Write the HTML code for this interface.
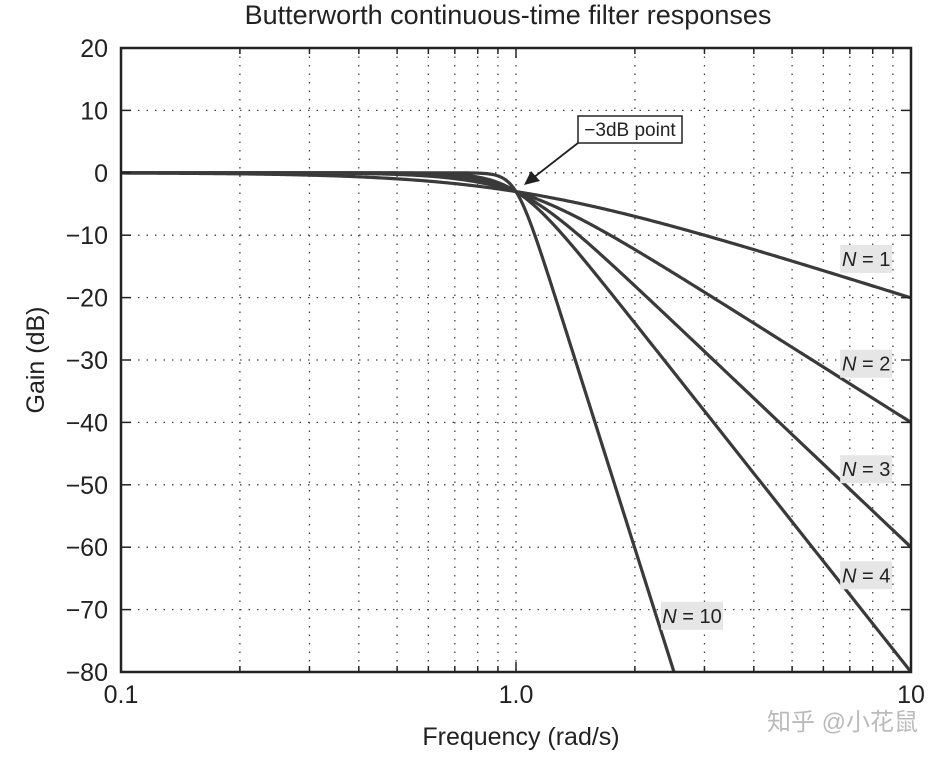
<!DOCTYPE html>
<html><head><meta charset="utf-8"><style>
body{margin:0;background:#fff;}
svg{display:block;font-family:"Liberation Sans","Noto Sans CJK SC",sans-serif;}
</style></head><body>
<svg id="chart" width="943" height="759">
<text x="508" y="24" font-size="27" text-anchor="middle" fill="#222">Butterworth continuous-time filter responses</text>
<g id="grid"></g>
<g id="curves"></g>
<rect x="121" y="48" width="790" height="624" fill="none" stroke="#222" stroke-width="2.5"/>
<g id="axes"></g>
<text x="521" y="745" font-size="25" text-anchor="middle" fill="#222">Frequency (rad/s)</text>
<text transform="translate(44,360) rotate(-90)" font-size="25" text-anchor="middle" fill="#222">Gain (dB)</text>
<g>
<rect x="578" y="116" width="104" height="27" fill="#fff" stroke="#222" stroke-width="1.5"/>
<text x="630" y="136" font-size="19" text-anchor="middle" fill="#222">−3dB point</text>
<line x1="578" y1="143" x2="533" y2="178" stroke="#222" stroke-width="1.8"/>
<polygon points="524,185 531,171 540,181" fill="#222"/>
</g>
<g id="labels"></g>
<text x="918" y="730" font-size="24" text-anchor="end" fill="#bbb">知乎 @小花鼠</text>
</svg>
<script>
const orders = [1, 2, 3, 4, 10];
const labelText = ["N = 1", "N = 2", "N = 3", "N = 4", "N = 10"];
const labelFreq = [7.7, 7.7, 7.7, 7.7, 2.79];
const labelGain = [-13.8, -30.6, -47.5, -64.5, -71.0];
const xTicks = [0.1, 1, 10];
const xTickLabels = ["0.1", "1.0", "10"];
const yTicks = [20, 10, 0, -10, -20, -30, -40, -50, -60, -70, -80];

const X0 = 121, X1 = 911, Y0 = 48, Y1 = 672;
const xs = f => X0 + (Math.log10(f) + 1) / 2 * (X1 - X0);
const ys = g => Y0 + (20 - g) / 100 * (Y1 - Y0);
const NS = "http://www.w3.org/2000/svg";
function mk(tag, attrs, parent) { const e = document.createElementNS(NS, tag); for (const k in attrs) e.setAttribute(k, attrs[k]); parent.appendChild(e); return e; }

const grid = document.getElementById('grid');
const axes = document.getElementById('axes');
for (let d = 0.1; d < 10; d *= 10) {
  for (let m = 1; m <= 9; m++) {
    const f = d * m, x = xs(f);
    if (m > 1) {
      const l = mk('line', {x1: x, x2: x, y1: Y0, y2: Y1, stroke: '#444', 'stroke-width': 1.3, 'stroke-dasharray': '1.5 7'}, grid);
      
      
    }
    mk('line', {x1: x, x2: x, y1: Y1, y2: Y1 - (m == 1 ? 10 : 6), stroke: '#222', 'stroke-width': 1.5}, axes);
    mk('line', {x1: x, x2: x, y1: Y0, y2: Y0 + (m == 1 ? 10 : 6), stroke: '#222', 'stroke-width': 1.5}, axes);
  }
}
{ const l = mk('line', {x1: xs(1), x2: xs(1), y1: Y0, y2: Y1, stroke: '#444', 'stroke-width': 1.3, 'stroke-dasharray': '1.5 7'}, grid);
    }
yTicks.forEach(g => {
  const y = ys(g);
  const l = mk('line', {x1: X0, x2: X1, y1: y, y2: y, stroke: '#444', 'stroke-width': 1.3, 'stroke-dasharray': '1.5 7'}, grid);
  
  
  mk('line', {x1: X0, x2: X0 + 10, y1: y, y2: y, stroke: '#222', 'stroke-width': 1.5}, axes);
  mk('line', {x1: X1, x2: X1 - 10, y1: y, y2: y, stroke: '#222', 'stroke-width': 1.5}, axes);
  const t = mk('text', {x: 108, y: y + 9, 'font-size': 25, 'text-anchor': 'end', fill: '#222'}, axes);
  t.textContent = g < 0 ? '−' + (-g) : String(g);
  
  
});
xTicks.forEach((f, i) => {
  const t = mk('text', {x: xs(f), y: 703, 'font-size': 25, 'text-anchor': 'middle', fill: '#222'}, axes);
  t.textContent = xTickLabels[i];
  
  
});

const curves = document.getElementById('curves');
orders.forEach(N => {
  let d = '';
  for (let i = 0; i <= 400; i++) {
    const f = Math.pow(10, -1 + i / 200);
    const g = -10 * Math.log10(1 + Math.pow(f, 2 * N));
    if (g < -80.5) break;
    d += (d ? 'L' : 'M') + xs(f).toFixed(2) + ',' + ys(Math.max(g, -80)).toFixed(2);
  }
  const p = mk('path', {d: d, fill: 'none', stroke: '#3a3a3a', 'stroke-width': 3.2, 'stroke-linejoin': 'round'}, curves);
  
  
});

const labels = document.getElementById('labels');
labelText.forEach((s, i) => {
  const x = xs(labelFreq[i]), y = ys(labelGain[i]);
  const g = mk('g', {}, labels);
  
  
  const w = s.length > 5 ? 62 : 52;
  mk('rect', {x: x - w / 2, y: y - 14, width: w, height: 28, fill: '#e6e6e6'}, g);
  const t = mk('text', {x: x, y: y + 7, 'font-size': 20, 'text-anchor': 'middle', fill: '#222'}, g);
  const parts = s.split(' = ');
  const a = mk('tspan', {'font-style': 'italic'}, t); a.textContent = parts[0];
  const b = mk('tspan', {}, t); b.textContent = ' = ' + parts[1];
});
</script>
</body></html>
